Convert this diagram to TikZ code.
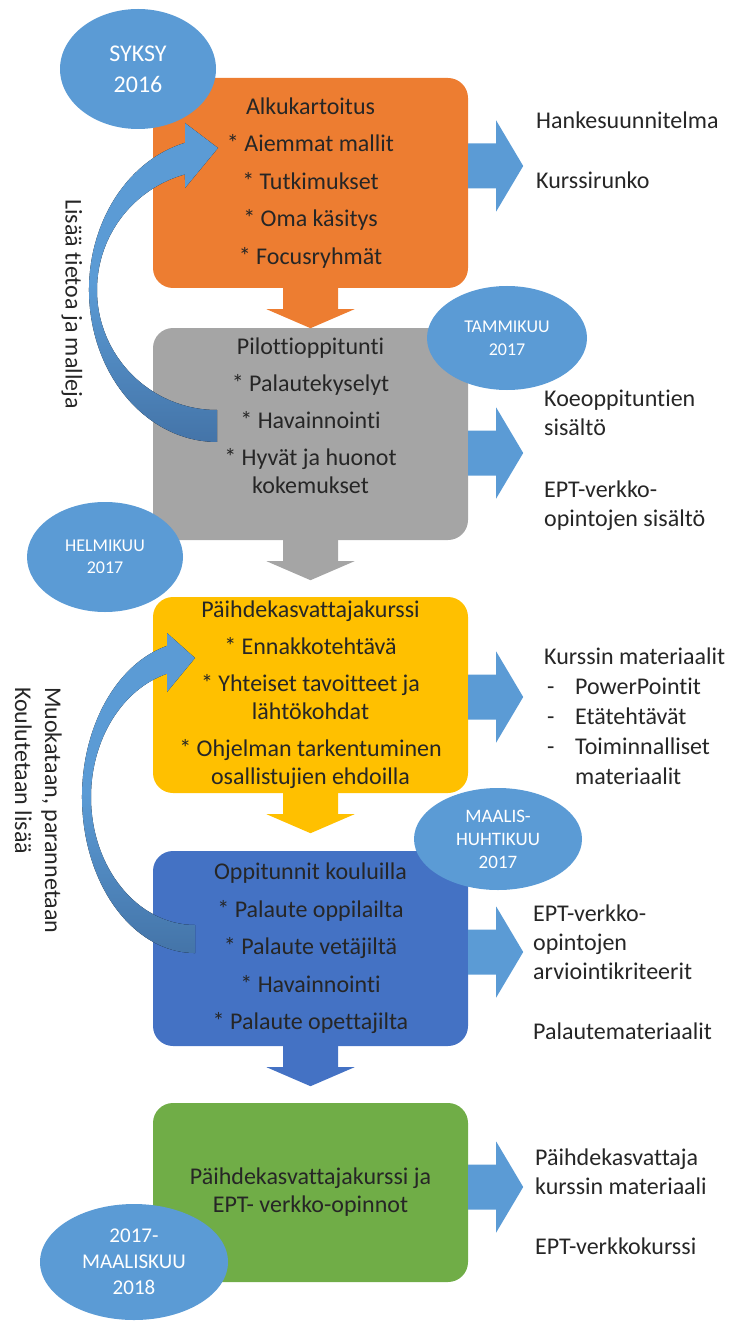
\documentclass[tikz,border=0pt]{standalone}
\usepackage{fontspec}
\setmainfont{Carlito}[Ligatures=NoCommon]
\usepackage{tikz}
\usetikzlibrary{shapes,arrows}
\usetikzlibrary{shapes.geometric}
\usetikzlibrary{calc}
\usetikzlibrary{positioning}
\definecolor{orangebox}{HTML}{ED7D31}
\definecolor{graybox}{HTML}{A5A5A5}
\definecolor{yellowbox}{HTML}{FFC000}
\definecolor{bluebox}{HTML}{4472C4}
\definecolor{greenbox}{HTML}{70AD47}
\definecolor{arrowblue}{HTML}{5B9BD5}
\definecolor{arrowdark}{HTML}{4474A8}
\definecolor{textgray}{HTML}{262626}
\tikzstyle{stage} = [draw=none, rectangle, rounded corners=20pt,
    minimum width=315pt, inner sep=0pt]
\tikzstyle{stagetext} = [align=center, inner sep=0pt, text=textgray,
    font=\fontsize{24}{28}\selectfont]
\tikzstyle{result} = [align=left, anchor=west, inner sep=0pt, text=textgray,
    font=\fontsize{24}{29}\selectfont]
\tikzstyle{season} = [ellipse, fill=arrowblue, text=white, align=center, inner sep=0pt]
\tikzstyle{sidenote} = [rotate=-90, inner sep=0pt, text=textgray]
% block arrow to the right, starting at the box edge
\newcommand{\sidearrow}[1]{\fill[arrowblue] (#1) ++(0,22.5) -- ++(28,0) -- ++(0,23)
    -- ++(27,-45.5) -- ++(-27,-45.5) -- ++(0,23) -- ++(-28,0) -- cycle;}
% block arrow down, below a box
\newcommand{\stepdown}[2]{\fill[#2] (#1) ++(-27.5,0) -- ++(0,-21) -- ++(-16.5,0)
    -- ++(44,-19) -- ++(44,19) -- ++(-16.5,0) -- ++(0,21) -- cycle;}
\begin{document}
\begin{tikzpicture}[x=1pt, y=1pt]
    \useasboundingbox (0,0) rectangle (736,-1321);
    % We start by placing the blocks
    \node [stage, fill=orangebox, minimum height=210pt] (alku) at (310.5,-183) {};
    \node [stage, fill=graybox, minimum height=212pt, node distance=251pt, below of=alku] (pilotti) {};
    \node [stage, fill=yellowbox, minimum height=196pt, node distance=261pt, below of=pilotti] (kurssi) {};
    \node [stage, fill=bluebox, minimum height=195pt, node distance=253.5pt, below of=kurssi] (tunnit) {};
    \node [stage, fill=greenbox, minimum height=179pt, node distance=244pt, below of=tunnit] (verkko) {};

    % arrows between the blocks
    \stepdown{alku.south}{orangebox}
    \stepdown{pilotti.south}{graybox}
    \stepdown{kurssi.south}{yellowbox}
    \stepdown{tunnit.south}{bluebox}

    % arrows to the results
    \sidearrow{[yshift=17pt]alku.east}
    \sidearrow{[yshift=-19pt]pilotti.east}
    \sidearrow{[yshift=-2pt]kurssi.east}
    \sidearrow{[yshift=-3.5pt]tunnit.east}
    \sidearrow{[yshift=5.5pt]verkko.east}

    % curved feedback arrows
    \fill [top color=arrowblue, bottom color=arrowdark, middle color=arrowblue]
        (185,-142.8) arc[start angle=104.48, end angle=270, x radius=128, y radius=152]
        -- (217,-410) arc[start angle=270, end angle=105.47, x radius=120, y radius=120]
        -- (185,-188) -- (218,-148) -- (185,-123) -- cycle;
    \fill [top color=arrowblue, bottom color=arrowdark, middle color=arrowblue]
        (167,-645.9) arc[start angle=104.35, end angle=270, x radius=113, y radius=156]
        -- (195,-925) arc[start angle=270, end angle=105.62, x radius=104, y radius=128]
        -- (167,-692) -- (195,-658) -- (167,-633) -- cycle;

    % texts of the blocks
    \node [stagetext] (alkuT) at (alku) {Alkukartoitus\\[9.5pt]* Aiemmat mallit\\[9.5pt]* Tutkimukset\\[9.5pt]* Oma käsitys\\[9.5pt]* Focusryhmät};
    \node [stagetext, yshift=18pt] (pilottiT) at (pilotti) {Pilottioppitunti\\[9pt]* Palautekyselyt\\[9pt]* Havainnointi\\[9pt]* Hyvät ja huonot\\kokemukset};
    \node [stagetext] (kurssiT) at (kurssi) {Päihdekasvattajakurssi\\[9pt]* Ennakkotehtävä\\[9pt]* Yhteiset tavoitteet ja\\lähtökohdat\\[9pt]* Ohjelman tarkentuminen\\osallistujien ehdoilla};
    \node [stagetext] (tunnitT) at (tunnit) {Oppitunnit kouluilla\\[9.5pt]* Palaute oppilailta\\[9.5pt]* Palaute vetäjiltä\\[9.5pt]* Havainnointi\\[9.5pt]* Palaute opettajilta};
    \node [stagetext] (verkkoT) at (verkko) {Päihdekasvattajakurssi ja\\EPT- verkko-opinnot};

    % results
    \node [result] (suunnitelma) at (536,-150) {Hankesuunnitelma\\[31pt]Kurssirunko};
    \node [result] (sisalto) at (544,-460) {Koeoppituntien\\sisältö\\[33pt]EPT-verkko-\\opintojen sisältö};
    \node [result] (materiaalit) at (544,-716) {Kurssin materiaalit\\[1pt]\hspace*{3pt}\makebox[28pt][l]{-}PowerPointit\\[1pt]\hspace*{3pt}\makebox[28pt][l]{-}Etätehtävät\\[1pt]\hspace*{3pt}\makebox[28pt][l]{-}Toiminnalliset\\[1pt]\hspace*{31pt}materiaalit};
    \node [result] (kriteerit) at (533,-972) {EPT-verkko-\\opintojen\\arviointikriteerit\\[31pt]Palautemateriaalit};
    \node [result] (materiaali) at (535,-1202) {Päihdekasvattaja\\kurssin materiaali\\[31pt]EPT-verkkokurssi};

    % side notes
    \node [sidenote, font=\fontsize{24}{29}\selectfont] (lisaa) at (72,-304) {Lisää tietoa ja malleja};
    \node [sidenote, anchor=north west, align=left, font=\fontsize{24}{30}\selectfont] (muokkaus) at (62,-687) {Muokataan, parannetaan\\Koulutetaan lisää};

    % time labels
    \node [season, minimum width=156pt, minimum height=120pt, font=\fontsize{24}{31}\selectfont] (syksy) at (138,-69) {SYKSY\\2016};
    \node [season, minimum width=160pt, minimum height=104pt, font=\fontsize{18}{23}\selectfont] (tammikuu) at (507,-338) {TAMMIKUU\\2017};
    \node [season, minimum width=156pt, minimum height=110pt, font=\fontsize{18}{22}\selectfont] (helmikuu) at (105,-557) {HELMIKUU\\2017};
    \node [season, minimum width=168pt, minimum height=102pt, font=\fontsize{19}{23}\selectfont] (maalis) at (498,-839) {MAALIS-\\HUHTIKUU\\2017};
    \node [season, minimum width=188pt, minimum height=116pt, font=\fontsize{21}{26}\selectfont] (maaliskuu) at (134,-1262) {2017-\\MAALISKUU\\2018};
\end{tikzpicture}
\end{document}
